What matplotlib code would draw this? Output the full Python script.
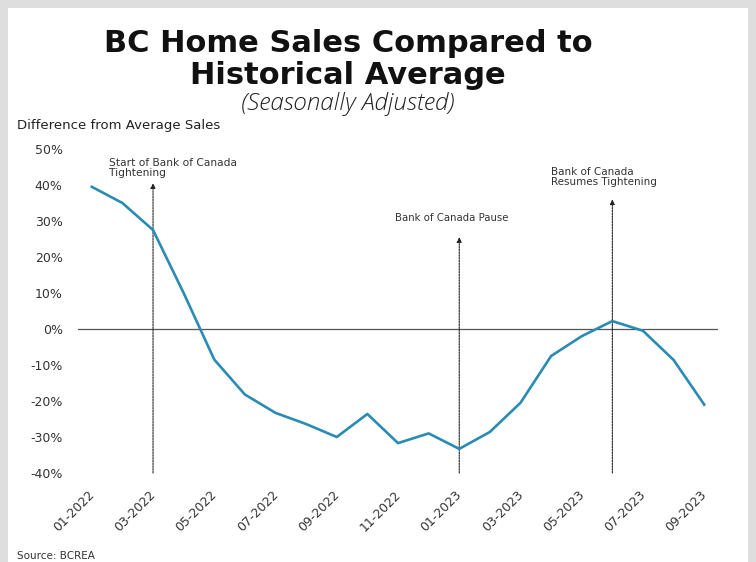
import numpy as np
import matplotlib.pyplot as plt
from matplotlib.patches import Rectangle
from matplotlib.ticker import FuncFormatter
from matplotlib.transforms import ScaledTranslation

months = ['01-2022', '02-2022', '03-2022', '04-2022', '05-2022', '06-2022', '07-2022',
          '08-2022', '09-2022', '10-2022', '11-2022', '12-2022', '01-2023', '02-2023',
          '03-2023', '04-2023', '05-2023', '06-2023', '07-2023', '08-2023', '09-2023']
diff_pct = [39.5, 35.0, 27.5, 10.0, -8.5, -18.2, -23.3, -26.4, -30.0, -23.6, -31.7,
            -29.0, -33.3, -28.6, -20.5, -7.5, -2.0, 2.2, -0.5, -8.6, -21.0]

events = ['Start of Bank of Canada\nTightening', 'Bank of Canada Pause',
          'Bank of Canada\nResumes Tightening']
event_months = ['03-2022', '01-2023', '06-2023']
event_tops = [40.5, 25.5, 36.0]

x = np.arange(len(months))

fig = plt.figure(figsize=(7.56, 5.62), dpi=100)
fig.patch.set_facecolor('#dedede')
fig.patches.append(Rectangle((8 / 756, 0), 740 / 756, 1 - 8 / 562,
                             transform=fig.transFigure, facecolor='white',
                             edgecolor='none', zorder=-1))

ax = fig.add_axes([78 / 756, 1 - 473 / 562, 640 / 756, 324 / 562])
ax.set_facecolor('none')

ax.axhline(0, color='#555555', lw=0.9, zorder=1)
ax.plot(x, diff_pct, color='#2a8bb3', lw=1.9, zorder=3)

for label, m, top in zip(events, event_months, event_tops):
    xi = months.index(m)
    ax.annotate('', xy=(xi, top), xytext=(xi, -40),
                arrowprops=dict(arrowstyle='-|>', color='#222222', lw=0.8,
                                linestyle=(0, (1.5, 1)), mutation_scale=7,
                                shrinkA=0, shrinkB=0), zorder=2)

ax.text(months.index('03-2022') - 1.45, 47.6, events[0], fontsize=7.7,
        color='#333333', va='top', ha='left', linespacing=1.0)
ax.text(months.index('01-2023') - 0.25, 29.5, events[1], fontsize=7.3,
        color='#333333', va='bottom', ha='center')
ax.text(months.index('06-2023') - 2.0, 39.5, events[2], fontsize=7.5,
        color='#333333', va='bottom', ha='left', linespacing=1.0)

ax.set_xlim(-0.45, len(months) - 0.55)
ax.set_ylim(-40, 50)
ax.set_yticks(np.arange(-40, 51, 10))
ax.yaxis.set_major_formatter(FuncFormatter(lambda v, p: f'{v:.0f}%'))
ax.set_xticks(x[::2])
ax.set_xticklabels(months[::2], rotation=45, ha='right', va='top',
                   rotation_mode='anchor')
ax.tick_params(axis='both', length=0, labelsize=9, colors='#333333')
ax.tick_params(axis='y', pad=11)
ax.tick_params(axis='x', pad=8)
shift = ScaledTranslation(-4 / 100, -4 / 100, fig.dpi_scale_trans)
for lab in ax.get_xticklabels():
    lab.set_transform(lab.get_transform() + shift)
for s in ax.spines.values():
    s.set_visible(False)

fig.text(348 / 756, 1 - 43 / 562, 'BC Home Sales Compared to', fontsize=22,
         fontweight='bold', family='DejaVu Sans', ha='center', va='center',
         color='#111111')
fig.text(348 / 756, 1 - 76 / 562, 'Historical Average', fontsize=22,
         fontweight='bold', family='DejaVu Sans', ha='center', va='center',
         color='#111111')
fig.text(348 / 756, 1 - 104 / 562, '(Seasonally Adjusted)', fontsize=17.5,
         style='italic', family='Open Sans', fontweight='light', ha='center',
         va='center', color='#222222')
fig.text(17 / 756, 1 - 125 / 562, 'Difference from Average Sales', fontsize=9.5,
         ha='left', va='center', color='#222222')
fig.text(17 / 756, 1 - 556 / 562, 'Source: BCREA', fontsize=7.5,
         ha='left', va='center', color='#333333')

fig.savefig('out.png', dpi=100, facecolor=fig.get_facecolor())
